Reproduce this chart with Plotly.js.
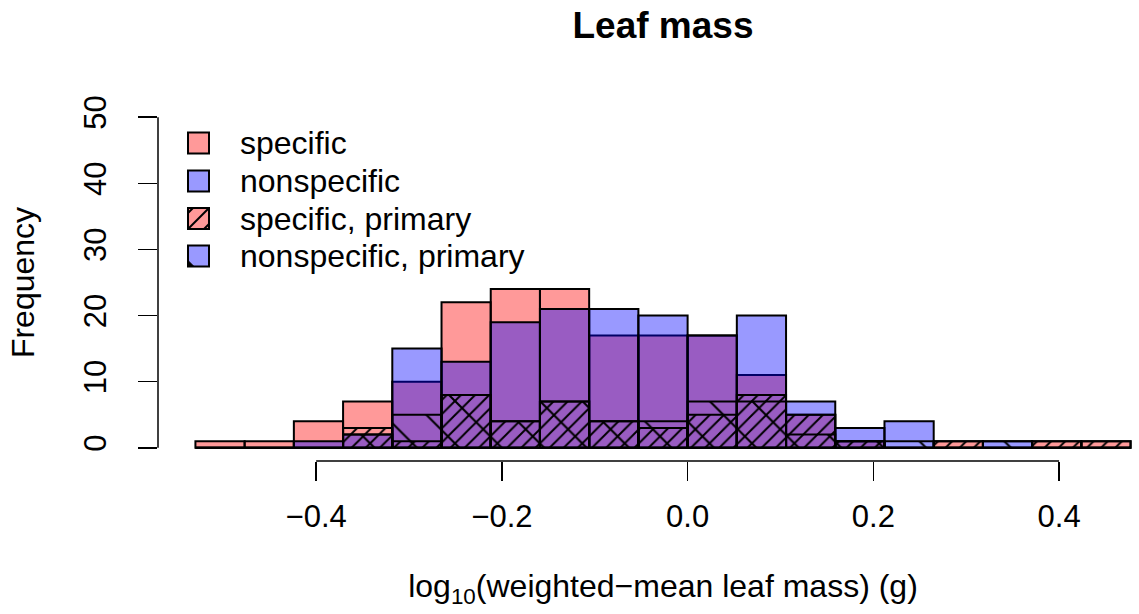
<!DOCTYPE html>
<html>
<head>
<meta charset="utf-8">
<script src="https://cdn.plot.ly/plotly-3.0.1.min.js"></script>
<style>
html,body{margin:0;padding:0;overflow:hidden;background:#fff;}
#chart{width:1168px;height:614px;}
</style>
</head>
<body>
<div id="chart"></div>
<script>
// ---- data ----
const binStarts = [-0.530,-0.477,-0.424,-0.371,-0.318,-0.265,-0.212,-0.159,-0.106,-0.053,0.000,0.053,0.106,0.159,0.212,0.265,0.318,0.371,0.424];
const binWidth = 0.053;
const specific           = [1,1,4,7,10,22,24,24,17,17,17,11,5,1,0,1,0,1,1];
const nonspecific        = [0,0,1,2,15,13,19,21,21,20,17,20,7,3,4,0,1,0,0];
const specificPrimary    = [0,0,0,3,1,8,4,7,4,3,5,8,5,1,0,1,0,1,1];
const nonspecificPrimary = [0,0,0,2,5,8,4,7,4,4,7,7,2,1,1,0,1,0,0];
const seriesNames = ['specific','nonspecific','specific, primary','nonspecific, primary'];
const xTicks = [-0.4,-0.2,0.0,0.2,0.4];
const yTicks = [0,10,20,30,40,50];

// ---- styles ----
const FONT = 'Liberation Sans, Arial, Helvetica, sans-serif';
const RED = 'rgba(255,0,0,0.4)';
const BLUE = 'rgba(0,0,255,0.4)';
const CLEAR = 'rgba(0,0,0,0)';
const OUTLINE = {color:'#000', width:2};
const HATCH_SP = {shape:'/', fgcolor:'#000', size:10, solidity:0.2};
const HATCH_NSP = {shape:'\\', fgcolor:'#000', size:30, solidity:0.07};
const seriesFill = [RED, BLUE, RED, BLUE];

function bars(vals, name, color, pattern) {
  const marker = {color: color, line: OUTLINE};
  if (pattern) marker.pattern = Object.assign({bgcolor: color}, pattern);
  return {
    type:'bar', x: binStarts, y: vals, width: binWidth, offset: 0,
    name: name, marker: marker, hoverinfo:'x+y+name'
  };
}

const traces = [
  bars(specific, seriesNames[0], RED, null),
  bars(nonspecific, seriesNames[1], BLUE, null),
  bars(specificPrimary, seriesNames[2], CLEAR, HATCH_SP),
  bars(nonspecificPrimary, seriesNames[3], CLEAR, HATCH_NSP)
];

// ---- plot geometry (px) ----
const W = 1168, H = 614, ML = 158, MR = 0, MT = 104, MB = 153;
const PW = W - ML - MR, PH = H - MT - MB;
const px2x = p => (p - ML) / PW;
const px2y = p => (H - MB - p) / PH;

// ---- legend (R style, top-left) ----
const legRows = [143, 181, 218.5, 256];
const swL = 188, swR = 209, swHalf = 10.5, textX = 239;
const shapes = [
  {type:'line', xref:'x', yref:'paper', x0:xTicks[0], x1:xTicks[xTicks.length-1], y0:0, y1:0,
   line:{color:'#000', width:1.5}},
  {type:'line', xref:'paper', yref:'y', x0:0, x1:0, y0:yTicks[0], y1:yTicks[yTicks.length-1],
   line:{color:'#000', width:1.5}}
];
const annotations = [];
seriesNames.forEach((nm, i) => {
  const cy = legRows[i];
  shapes.push({type:'rect', xref:'paper', yref:'paper',
    x0:px2x(swL), x1:px2x(swR), y0:px2y(cy + swHalf), y1:px2y(cy - swHalf),
    fillcolor: seriesFill[i], line:{color:'#000', width:2}});
  annotations.push({xref:'paper', yref:'paper', x:px2x(textX), y:px2y(cy),
    xanchor:'left', yanchor:'middle', showarrow:false, text:nm,
    font:{family:FONT, size:32, color:'#000'}, borderpad:0});
});
// hatch marks in the "primary" legend swatches
(function(){
  const cy = legRows[2], t = cy - swHalf, b = cy + swHalf;
  const segs = [[swL, b, swR, t], [swL, t + 5, swL + 5, t], [swR - 5, b, swR, b - 5]];
  segs.forEach(s => shapes.push({type:'line', xref:'paper', yref:'paper',
    x0:px2x(s[0]), y0:px2y(s[1]), x1:px2x(s[2]), y1:px2y(s[3]), line:{color:'#000', width:2}}));
  const cy2 = legRows[3], b2 = cy2 + swHalf;
  shapes.push({type:'path', xref:'paper', yref:'paper',
    path:'M' + px2x(swL) + ',' + px2y(b2 - 6) + 'L' + px2x(swL + 6) + ',' + px2y(b2) + 'L' + px2x(swL) + ',' + px2y(b2) + 'Z',
    fillcolor:'#000', line:{color:'#000', width:1}});
})();

const layout = {
  width: W, height: H,
  margin: {l:ML, r:MR, t:MT, b:MB, pad:0},
  paper_bgcolor:'#fff', plot_bgcolor:'#fff',
  barmode:'overlay', showlegend:false,
  font:{family: FONT, size:31, color:'#000'},
  title:{text:'Leaf mass', font:{family: FONT, size:37, weight:'bold', color:'#000'},
         x:0.5, xref:'paper', xanchor:'center', y:1-25/614, yref:'container', yanchor:'middle'},
  xaxis:{
    range:[-0.5703, 0.5173], tickvals: xTicks, tickformat:'.1f',
    ticks:'outside', ticklen:19, tickwidth:1.5, tickcolor:'#000',
    showline:false, showgrid:false, zeroline:false, ticklabelstandoff: 9,
    tickfont:{size:31},
    title:{text:'log<sub>10</sub>(weighted\u2212mean leaf mass) (g)', font:{size:32}, standoff: 41}
  },
  yaxis:{
    range:[-2, 52], tickvals: yTicks,
    ticks:'outside', ticklen:19, tickwidth:1.5, tickcolor:'#000', tickangle:-90,
    showline:false, showgrid:false, zeroline:false, ticklabelstandoff: 20,
    tickfont:{size:31},
    title:{text:'Frequency', font:{size:32}, standoff: 33}
  },
  shapes: shapes,
  annotations: annotations
};

Plotly.newPlot('chart', traces, layout, {displayModeBar:false, staticPlot:true});
</script>
</body>
</html>
